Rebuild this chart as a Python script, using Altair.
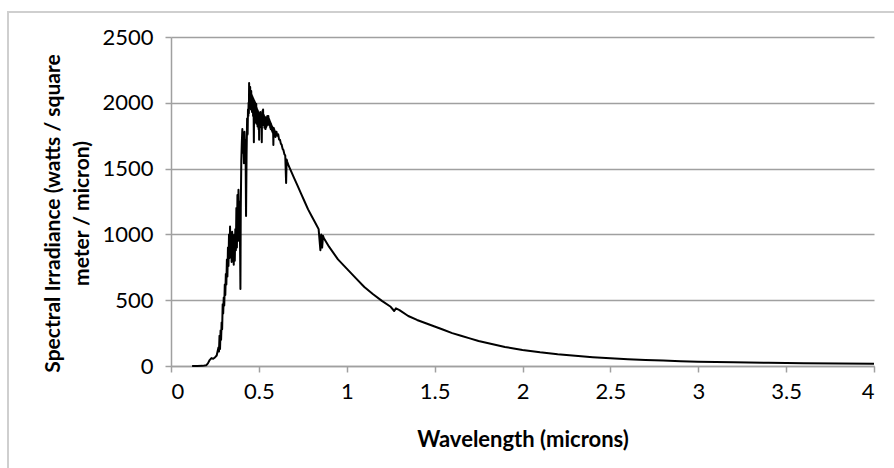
import altair as alt
import pandas as pd

# --- ultraviolet / blue rise -------------------------------------------------
wl_uv = [
    0.12, 0.15, 0.18, 0.20, 0.21, 0.22, 0.23, 0.24, 0.25, 0.26,
    0.270, 0.273, 0.276, 0.279, 0.282, 0.285, 0.288, 0.291, 0.294, 0.297,
    0.300, 0.303, 0.306, 0.309, 0.312, 0.315, 0.318, 0.321, 0.324, 0.327,
    0.330, 0.333, 0.336, 0.339, 0.342, 0.345, 0.348, 0.351, 0.354, 0.357,
    0.360, 0.363, 0.366, 0.369, 0.372, 0.375, 0.378, 0.381, 0.384, 0.387,
    0.390, 0.393, 0.395, 0.397, 0.400, 0.403, 0.406, 0.409, 0.412, 0.415,
    0.418, 0.421, 0.424, 0.427, 0.430, 0.433, 0.436, 0.438,
]
irr_uv = [
    0, 0, 1, 5, 20, 45, 60, 55, 65, 80,
    140, 110, 230, 130, 270, 200, 330, 280, 470, 400,
    520, 460, 620, 540, 700, 620, 810, 680, 900, 760,
    1000, 820, 1060, 850, 980, 790, 1020, 830, 960, 770,
    1000, 800, 1040, 880, 1200, 900, 1300, 950, 1340, 1050,
    1250, 900, 585, 1200, 1560, 1700, 1800, 1620, 1760, 1540,
    1780, 1650, 1720, 1140, 1600, 1880, 1760, 1950,
]

# --- visible peak (dense absorption lines) -----------------------------------
wl_vis = [
    0.4400, 0.4415, 0.4430, 0.4445, 0.4460, 0.4475, 0.4490, 0.4505, 0.4520, 0.4535,
    0.4550, 0.4565, 0.4580, 0.4595, 0.4610, 0.4625, 0.4640, 0.4655, 0.4670, 0.4685,
    0.4700, 0.4715, 0.4730, 0.4745, 0.4760, 0.4775, 0.4790, 0.4805, 0.4820, 0.4835,
    0.4850, 0.4865, 0.4880, 0.4895, 0.4910, 0.4925, 0.4940, 0.4955, 0.4970, 0.4985,
    0.5000, 0.5015, 0.5030, 0.5045, 0.5060, 0.5075, 0.5090, 0.5105, 0.5120, 0.5135,
    0.5150, 0.5165, 0.5180, 0.5195, 0.5210, 0.5225, 0.5240, 0.5255, 0.5270, 0.5285,
    0.5300, 0.5315, 0.5330, 0.5345, 0.5360, 0.5375, 0.5390, 0.5405, 0.5420, 0.5435,
    0.5450, 0.5465, 0.5480, 0.5495, 0.5510, 0.5525, 0.5540, 0.5555, 0.5570, 0.5585,
    0.5600, 0.5615, 0.5630, 0.5645, 0.5660, 0.5675, 0.5690, 0.5705, 0.5720, 0.5735,
    0.5750, 0.5765, 0.5780, 0.5795, 0.5810, 0.5825, 0.5840, 0.5855, 0.5870, 0.5885,
    0.5900, 0.5915, 0.5930, 0.5945, 0.5960, 0.600, 0.605, 0.610, 0.615, 0.620,
    0.625, 0.630, 0.635, 0.640, 0.645, 0.650, 0.655, 0.658, 0.662, 0.670,
    0.680, 0.690, 0.700,
]
irr_vis = [
    1900, 2000, 1920, 2150, 2000, 2100, 1960, 2120, 2000, 2080,
    1950, 2090, 1980, 2060, 1930, 2050, 1960, 2040, 1900, 2030,
    1940, 1700, 2020, 1920, 2010, 1880, 2000, 1850, 1980, 1870,
    1990, 1840, 1960, 1860, 1950, 1820, 1940, 1850, 1930, 1800,
    1920, 1720, 1900, 1810, 1920, 1830, 1930, 1850, 1910, 1820,
    1890, 1700, 1900, 1830, 1940, 1850, 1950, 1840, 1910, 1830,
    1900, 1810, 1880, 1820, 1890, 1800, 1870, 1810, 1880, 1820,
    1890, 1830, 1900, 1840, 1890, 1840, 1900, 1850, 1880, 1830,
    1870, 1830, 1860, 1810, 1850, 1800, 1840, 1800, 1830, 1790,
    1820, 1780, 1810, 1770, 1800, 1680, 1810, 1770, 1800, 1760,
    1790, 1750, 1780, 1740, 1770, 1780, 1750, 1760, 1720, 1720,
    1690, 1680, 1650, 1640, 1610, 1600, 1390, 1570, 1550, 1520,
    1490, 1460, 1430,
]

# --- near infrared tail ------------------------------------------------------
wl_ir = [
    0.72, 0.74, 0.76, 0.78, 0.80, 0.82, 0.84, 0.85, 0.855, 0.86,
    0.865, 0.87, 0.90, 0.95, 1.00, 1.05, 1.10, 1.15, 1.20, 1.25,
    1.27, 1.28, 1.30, 1.35, 1.40, 1.45, 1.50, 1.55, 1.60, 1.65,
    1.70, 1.75, 1.80, 1.85, 1.90, 1.95, 2.00, 2.10, 2.20, 2.30,
    2.40, 2.50, 2.60, 2.70, 2.80, 2.90, 3.00, 3.20, 3.40, 3.60,
    3.80, 4.00,
]
irr_ir = [
    1370, 1310, 1250, 1190, 1140, 1090, 1040, 880, 1000, 900,
    990, 970, 905, 810, 740, 670, 600, 545, 495, 450,
    418, 438, 425, 380, 350, 325, 300, 275, 250, 230,
    210, 190, 175, 160, 145, 133, 122, 104, 89, 77,
    67, 59, 52, 46, 41, 37, 33, 28, 24, 21,
    19, 17,
]

x_ticks = [0, 0.5, 1, 1.5, 2, 2.5, 3, 3.5, 4]
y_ticks = [0, 500, 1000, 1500, 2000, 2500]
x_title = "Wavelength (microns)"
y_title = ["Spectral Irradiance (watts / square", "meter / micron)"]

df = pd.DataFrame({
    "wl": wl_uv + wl_vis + wl_ir,
    "irr": irr_uv + irr_vis + irr_ir,
})

FONT = "Lato"
GRID = "#a0a0a0"

line = alt.Chart(df).mark_line(color="black", strokeWidth=2, strokeJoin="round").encode(
    x=alt.X(
        "wl:Q",
        scale=alt.Scale(domain=[0, 4], nice=False, zero=False),
        axis=alt.Axis(
            values=x_ticks, format="~g", title=x_title, grid=False,
            domainColor=GRID, domainWidth=1.5, tickColor=GRID, tickWidth=1.5, tickSize=6,
            labelFont=FONT, labelFontSize=22, labelColor="black", labelPadding=9,
            titleFont=FONT, titleFontSize=22, titleFontWeight="bold", titleColor="black",
            titleY=73, titleBaseline="middle",
        ),
    ),
    y=alt.Y(
        "irr:Q",
        scale=alt.Scale(domain=[0, 2500], nice=False),
        axis=alt.Axis(
            values=y_ticks, format="d", title=y_title, grid=True,
            gridColor=GRID, gridWidth=1.5,
            domainColor=GRID, domainWidth=1.5, tickColor=GRID, tickWidth=1.5, tickSize=6,
            labelFont=FONT, labelFontSize=22, labelColor="black", labelPadding=12,
            titleFont=FONT, titleFontSize=21, titleFontWeight="bold", titleColor="black",
            titleAngle=-90, titleX=-118, titleY=176, titleBaseline="middle",
            titleAlign="center", titleLineHeight=29,
        ),
    ),
)

frame = alt.Chart(pd.DataFrame({"k": [0]})).mark_rect(
    fillOpacity=0, stroke="#cfcfcf", strokeWidth=2
).encode(
    x=alt.value(-163), x2=alt.value(760), y=alt.value(-25), y2=alt.value(460)
)

chart = alt.layer(frame, line).properties(
    width=703, height=329,
    autosize=alt.AutoSizeParams(type="none"),
    padding={"left": 171, "top": 37, "right": 20, "bottom": 102},
    background="white",
).configure_view(stroke=None)

chart.save("out.html", embed_options={"renderer": "svg", "actions": False})
